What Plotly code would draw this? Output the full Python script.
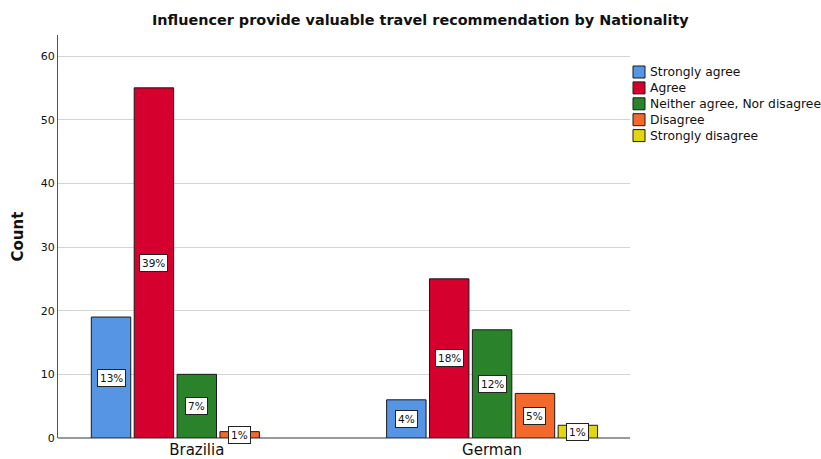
import plotly.graph_objects as go

# Survey counts per nationality and response
nationalities = ["Brazilia", "German"]
responses = ["Strongly agree", "Agree", "Neither agree, Nor disagree", "Disagree", "Strongly disagree"]
strongly_agree = [19, 6]
agree = [55, 25]
neither = [10, 17]
disagree = [1, 7]
strongly_disagree = [0, 2]
y_ticks = [0, 10, 20, 30, 40, 50, 60]

colors = ["#5595e3", "#d6002f", "#2a832a", "#f3692b", "#e4d60e"]
series = [strongly_agree, agree, neither, disagree, strongly_disagree]
total = sum(sum(s) for s in series)

FONT = "DejaVu Sans"
W, H = 821, 459
ML, MR, MT, MB = 58, 191, 35, 21
PW = W - ML - MR
PH = H - MT - MB
xpos = list(range(len(nationalities)))

fig = go.Figure()
for name, vals, col in zip(responses, series, colors):
    fig.add_trace(go.Bar(
        x=xpos, y=[v if v > 0 else None for v in vals], name=name,
        marker=dict(color=col, line=dict(color="#1a1a1a", width=1)),
        showlegend=False,
    ))

# Percentage-of-total labels centred inside each bar
n = len(series)
group_w = 0.726
slot = group_w / n
annotations = []
shapes = []
for i, vals in enumerate(series):
    for j, v in enumerate(vals):
        if v <= 0:
            continue
        xc = xpos[j] - group_w / 2 + slot * (i + 0.5)
        annotations.append(dict(
            x=xc, y=v / 2, xref="x", yref="y", showarrow=False,
            text=f"{round(v / total * 100)}%",
            font=dict(family=FONT, size=10.5, color="#111111"),
            bgcolor="white", bordercolor="#222222", borderwidth=1, borderpad=2,
        ))

# Y axis title
annotations.append(dict(
    x=(17 - ML) / PW, y=0.5, xref="paper", yref="paper", showarrow=False,
    text="<b>Count</b>", textangle=-90, xanchor="center", yanchor="middle",
    font=dict(family=FONT, size=15, color="#111111"),
))

# Legend: swatches with labels to the right of the plot
def px_x(px):
    return (px - ML) / PW

def px_y(py):
    return (H - MB - py) / PH

for k, (name, col) in enumerate(zip(responses, colors)):
    yc = 72 + k * 15.9
    shapes.append(dict(
        type="rect", xref="paper", yref="paper",
        x0=px_x(633), x1=px_x(645), y0=px_y(yc + 6), y1=px_y(yc - 6),
        fillcolor=col, line=dict(color="#1a1a1a", width=1),
    ))
    annotations.append(dict(
        x=px_x(648), y=px_y(yc), xref="paper", yref="paper", showarrow=False,
        text=name, xanchor="left", yanchor="middle",
        font=dict(family=FONT, size=12.3, color="#111111"),
    ))

fig.update_layout(
    width=W, height=H,
    margin=dict(l=ML, r=MR, t=MT, b=MB, autoexpand=False),
    paper_bgcolor="white", plot_bgcolor="white",
    barmode="group", bargap=1 - group_w, bargroupgap=0.08,
    showlegend=False,
    title=dict(
        text="<b>Influencer provide valuable travel recommendation by Nationality</b>",
        x=0.512, xref="container", xanchor="center",
        y=1 - 20 / H, yref="container", yanchor="middle",
        font=dict(family=FONT, size=14.4, color="#111111"),
    ),
    xaxis=dict(
        range=[-0.47, 1.467], tickvals=xpos, ticktext=nationalities,
        showgrid=False, zeroline=False, showline=False, ticks="",
        tickfont=dict(family=FONT, size=15, color="#111111"),
        ticklabelstandoff=1, automargin=False,
    ),
    yaxis=dict(
        range=[0, 63.3], tickvals=y_ticks, showgrid=True, gridcolor="#d4d4d4",
        gridwidth=1, zeroline=True, zerolinecolor="#9a9a9a", zerolinewidth=2,
        showline=True, linecolor="#555555", linewidth=1, ticks="",
        tickfont=dict(family=FONT, size=11, color="#111111"),
        automargin=False,
    ),
    annotations=annotations,
    shapes=shapes,
)

fig.write_html("out.html")
